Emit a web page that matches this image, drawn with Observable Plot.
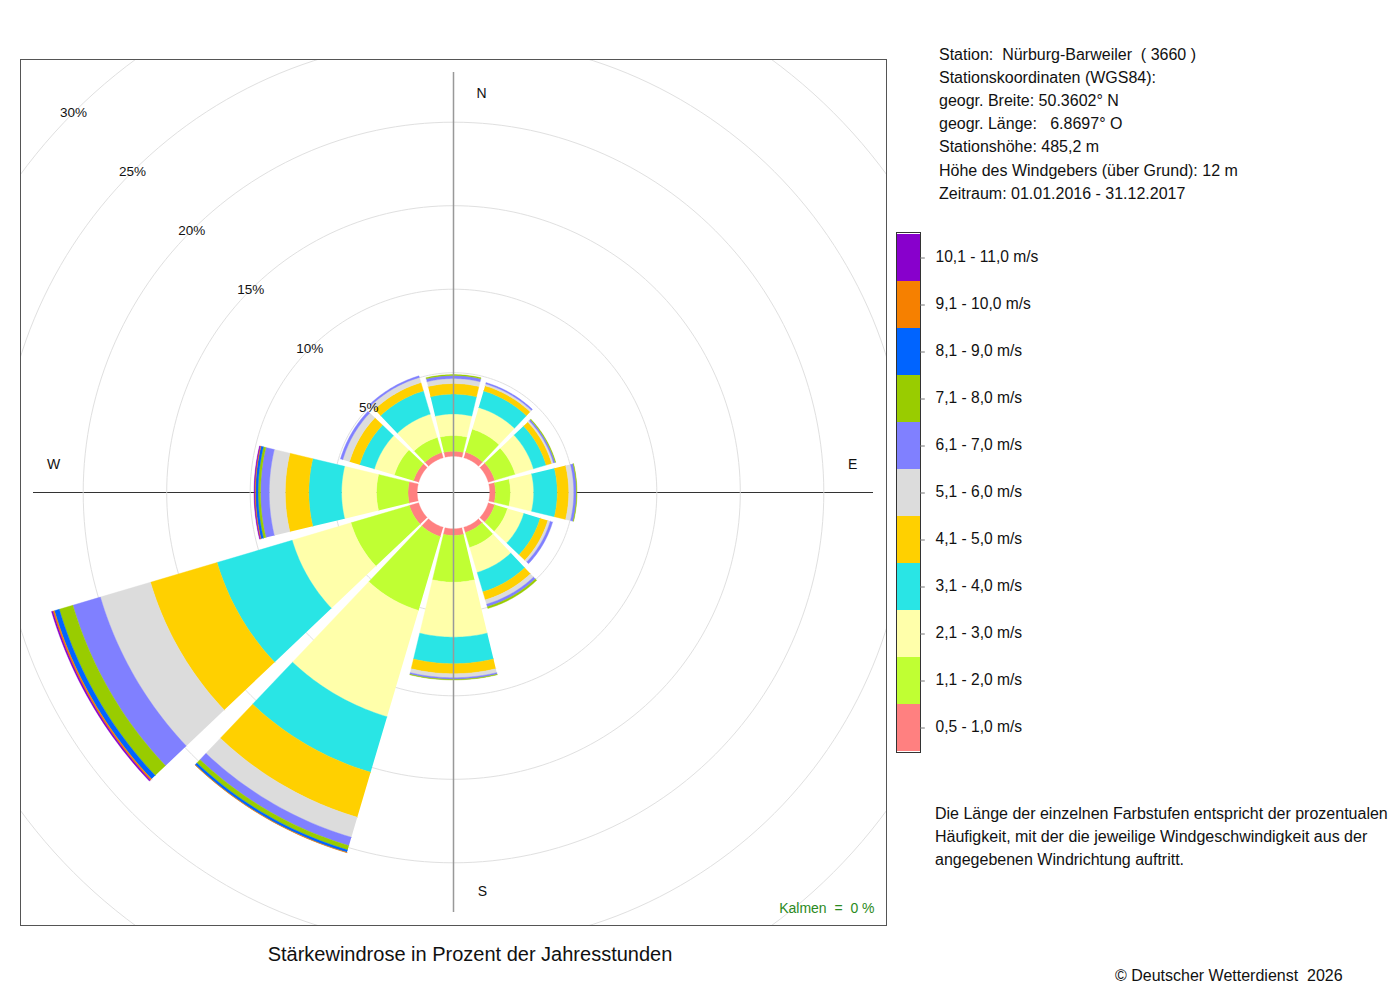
<!DOCTYPE html>
<html>
<head>
<meta charset="utf-8">
<script src="https://cdn.jsdelivr.net/npm/d3@7"></script>
<script src="https://cdn.jsdelivr.net/npm/@observablehq/plot@0.6"></script>
<style>
  html, body { margin: 0; padding: 0; background: #fff; }
  #root { position: relative; width: 1400px; height: 1000px; font-family: "Liberation Sans", Arial, sans-serif; color: #111; }
  .abs { position: absolute; white-space: pre; }
  #info { left: 939px; top: 42.5px; font-size: 16px; line-height: 23.2px; }
  #desc { left: 935px; top: 802px; font-size: 16px; line-height: 23px; }
  #title { left: 20px; width: 900px; top: 941px; font-size: 20px; line-height: 26px; text-align: center; }
  #copy { left: 1115px; top: 965.5px; font-size: 16px; line-height: 20px; }
</style>
</head>
<body>
<div id="root">
  <div id="rose" class="abs" style="left:19px;top:58px;"></div>
  <div id="legend" class="abs" style="left:890px;top:222px;"></div>
  <div id="info" class="abs"></div>
  <div id="desc" class="abs"></div>
  <div id="title" class="abs">Stärkewindrose in Prozent der Jahresstunden</div>
  <div id="copy" class="abs">© Deutscher Wetterdienst  2026</div>
</div>
<script>
// ---------- data ----------
const directions = [0, 30, 60, 90, 120, 150, 180, 210, 240, 270, 300, 330];
const speedClasses = ["0,5 - 1,0 m/s", "1,1 - 2,0 m/s", "2,1 - 3,0 m/s", "3,1 - 4,0 m/s",
  "4,1 - 5,0 m/s", "5,1 - 6,0 m/s", "6,1 - 7,0 m/s", "7,1 - 8,0 m/s",
  "8,1 - 9,0 m/s", "9,1 - 10,0 m/s", "10,1 - 11,0 m/s"];
const classColors = ["#ff8080", "#c0ff33", "#ffffaa", "#29e5e5", "#ffd000", "#dcdcdc",
  "#8080ff", "#99cc00", "#0064ff", "#f68000", "#8800cc"];

// percent of hours per direction (N, 30, 60, E, 120, 150, S, 210, 240, W, 300, 330)
const s05_10  = [0.30, 0.35, 0.40, 0.34, 0.40, 0.32, 0.40, 0.58, 0.58, 0.55, 0.32, 0.32];
const s11_20  = [0.94, 1.43, 1.28, 0.90, 0.80, 0.94, 2.80, 4.61, 3.65, 1.89, 1.20, 0.94];
const s21_30  = [1.29, 1.35, 1.14, 1.39, 1.02, 1.56, 3.29, 6.64, 3.67, 2.09, 1.25, 1.46];
const s31_40  = [1.19, 1.04, 0.79, 1.41, 1.02, 1.21, 1.59, 3.47, 4.69, 1.96, 0.92, 1.45];
const s41_50  = [0.63, 0.32, 0.35, 0.69, 0.48, 0.50, 0.60, 2.81, 4.16, 1.41, 0.63, 0.52];
const s51_60  = [0.30, 0.12, 0.11, 0.30, 0.15, 0.27, 0.24, 1.25, 3.13, 0.96, 0.42, 0.32];
const s61_70  = [0.18, 0.08, 0.10, 0.16, 0.15, 0.16, 0.10, 0.52, 1.72, 0.52, 0.15, 0.10];
const s71_80  = [0.06, 0.00, 0.04, 0.03, 0.00, 0.11, 0.03, 0.27, 0.85, 0.15, 0.00, 0.00];
const s81_90  = [0.00, 0.00, 0.00, 0.00, 0.00, 0.00, 0.00, 0.15, 0.30, 0.15, 0.00, 0.00];
const s91_100 = [0.00, 0.00, 0.00, 0.00, 0.00, 0.00, 0.00, 0.02, 0.10, 0.05, 0.00, 0.00];
const s101_110= [0.00, 0.00, 0.00, 0.00, 0.00, 0.00, 0.00, 0.00, 0.08, 0.04, 0.00, 0.00];
const series = [s05_10, s11_20, s21_30, s31_40, s41_50, s51_60, s61_70, s71_80, s81_90, s91_100, s101_110];

const ringPercents = [5, 10, 15, 20, 25, 30, 35];
const ringLabels = [5, 10, 15, 20, 25, 30];
const calmPercent = 0;

const infoLines = [
  "Station:  Nürburg-Barweiler  ( 3660 )",
  "Stationskoordinaten (WGS84):",
  "geogr. Breite: 50.3602° N",
  "geogr. Länge:   6.8697° O",
  "Stationshöhe: 485,2 m",
  "Höhe des Windgebers (über Grund): 12 m",
  "Zeitraum: 01.01.2016 - 31.12.2017"
];
const descLines = [
  "Die Länge der einzelnen Farbstufen entspricht der prozentualen",
  "Häufigkeit, mit der die jeweilige Windgeschwindigkeit aus der",
  "angegebenen Windrichtung auftritt."
];

// ---------- geometry ----------
const PX = 16.7;            // pixels per percent
const R0 = 36.3 / PX;       // calm circle radius (in percent units)
const HALF = 433 / PX;      // half of the square frame
const AXIS = 420 / PX;      // half length of the cross lines
const HALFANGLE = 13.5;     // half width of a sector in degrees
const STEPS = 24;
const rad = Math.PI / 180;

const wedges = [];
directions.forEach((dir, i) => {
  let cum = 0;
  series.forEach((s, k) => {
    const v = s[i];
    if (!(v > 0)) return;
    const a = R0 + cum, b = R0 + cum + v;
    cum += v;
    const id = dir + "-" + k;
    for (let j = 0; j <= STEPS; j++) {
      const t = (dir - HALFANGLE + 2 * HALFANGLE * j / STEPS) * rad;
      wedges.push({id, cls: speedClasses[k], x: b * Math.sin(t), y: b * Math.cos(t)});
    }
    for (let j = STEPS; j >= 0; j--) {
      const t = (dir - HALFANGLE + 2 * HALFANGLE * j / STEPS) * rad;
      wedges.push({id, cls: speedClasses[k], x: a * Math.sin(t), y: a * Math.cos(t)});
    }
  });
});

const rings = [];
ringPercents.forEach(p => {
  for (let j = 0; j <= 240; j++) {
    const t = j / 240 * 2 * Math.PI;
    rings.push({p, x: (R0 + p) * Math.sin(t), y: (R0 + p) * Math.cos(t)});
  }
});

const font = '"Liberation Sans", Arial, sans-serif';
const colorScale = {type: "ordinal", domain: speedClasses, range: classColors};
const diag = Math.SQRT1_2;

const rose = Plot.plot({
  width: 868, height: 868, margin: 1,
  x: {domain: [-HALF, HALF], axis: null},
  y: {domain: [-HALF, HALF], axis: null},
  color: colorScale,
  style: {fontFamily: font, background: "white", color: "#111"},
  marks: [
    Plot.ruleY([0], {x1: -AXIS, x2: AXIS, stroke: "#333", strokeWidth: 1}),
    Plot.line(rings, {x: "x", y: "y", z: "p", stroke: "#e0e0e0", strokeWidth: 1, clip: true}),
    Plot.line(wedges, {x: "x", y: "y", z: "id", fill: "cls", stroke: "cls", strokeWidth: 0.4, curve: "linear"}),
    Plot.ruleX([0], {y1: -AXIS, y2: AXIS, stroke: "#999", strokeWidth: 1.5}),
    Plot.text(ringLabels, {x: p => -(R0 + p) * diag, y: p => (R0 + p) * diag, text: p => p + "%", fontSize: 13.5, fill: "#111"}),
    Plot.text(["N"], {x: 0, y: 23.9, dx: 28, text: d => d, fontSize: 14, fill: "#111"}),
    Plot.text(["S"], {x: 0, y: -23.9, dx: 29, text: d => d, fontSize: 14, fill: "#111"}),
    Plot.text(["W"], {x: -23.95, y: 0, dy: -28, text: d => d, fontSize: 14, fill: "#111"}),
    Plot.text(["E"], {x: 23.9, y: 0, dy: -28, text: d => d, fontSize: 14, fill: "#111"}),
    Plot.text([calmPercent], {frameAnchor: "bottom-right", textAnchor: "end", lineAnchor: "middle",
      dx: -12, dy: -17, text: d => "Kalmen\u00a0\u00a0=\u00a0\u00a0" + d + " %", fontSize: 14, fill: "#2b8a22"}),
    Plot.frame({stroke: "#555"})
  ]
});
document.getElementById("rose").appendChild(rose);

const legend = Plot.plot({
  width: 300, height: 540,
  marginTop: 10, marginBottom: 10, marginLeft: 6, marginRight: 270,
  x: {domain: [0, 1], axis: null},
  y: {type: "band", domain: speedClasses.slice().reverse(), padding: 0, axis: null},
  color: colorScale,
  style: {fontFamily: font, background: "transparent", color: "#111", overflow: "visible"},
  marks: [
    Plot.barX(speedClasses, {y: d => d, x1: 0, x2: 1, fill: d => d}),
    Plot.frame({stroke: "#333"}),
    Plot.ruleY(speedClasses, {y: d => d, x1: 1, x2: 1.2, stroke: "#777"}),
    Plot.text(speedClasses, {y: d => d, x: 1, text: d => d, textAnchor: "start", dx: 15, dy: -1.5, fontSize: 15.6, fill: "#111"})
  ]
});
document.getElementById("legend").appendChild(legend);

document.getElementById("info").textContent = infoLines.join("\n");
document.getElementById("desc").textContent = descLines.join("\n");
</script>
</body>
</html>
